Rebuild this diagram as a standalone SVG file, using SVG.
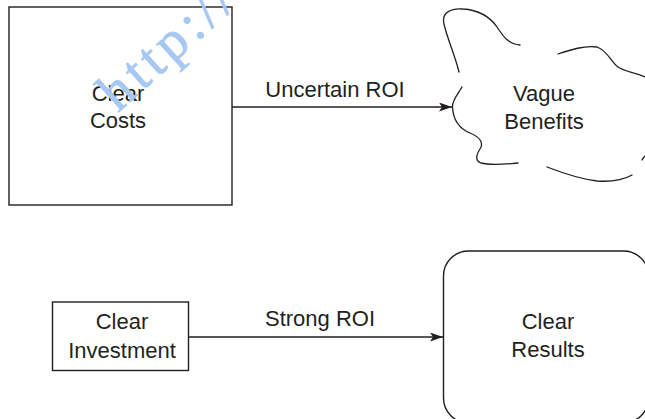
<svg xmlns="http://www.w3.org/2000/svg" width="645" height="419" viewBox="0 0 645 419">
<style>
.box{fill:none;stroke:#231f20;stroke-width:1.4}
.cl{fill:none;stroke:#231f20;stroke-width:1.3;stroke-linecap:round}
.edge{fill:none;stroke:#231f20;stroke-width:1.3}
.t{font-family:"Liberation Sans",Arial,sans-serif;font-size:22px;fill:#231f20;text-anchor:middle}
.wm{font-family:"Liberation Serif","Times New Roman",serif;font-size:55px;letter-spacing:5px;fill:#a6c8f2;stroke:#a6c8f2;stroke-width:0.8}
</style>
<defs>
<marker id="ah" markerUnits="userSpaceOnUse" markerWidth="14" markerHeight="10" refX="13" refY="4.5" orient="auto">
<path d="M0,0 L13,4.5 L0,9 L3,4.5 Z" fill="#231f20"/>
</marker>
</defs>
<rect width="645" height="419" fill="#fff"/>
<g id="connectors">
<line class="edge" x1="232" y1="107" x2="452" y2="107" marker-end="url(#ah)"/>
<text class="t" x="335" y="97">Uncertain ROI</text>
<line class="edge" x1="189" y1="337" x2="443" y2="337" marker-end="url(#ah)"/>
<text class="t" x="320" y="326">Strong ROI</text>
</g>
<g id="clear-costs">
<rect class="box" x="9" y="7" width="223" height="198"/>
<text class="t" x="118" y="101">Clear</text>
<text class="t" x="118" y="128">Costs</text>
</g>
<g id="vague-benefits">
<path class="cl" d="M459,72 C455,55 447,38 444,24 C441,12 452,8 463,9 C478,10 490,17 497,27 C503,36 508,44 520,45"/>
<path class="cl" d="M558,54 C570,50 585,45 597,47 C607,50 611,62 618,67 C625,72 635,72 645,77"/>
<path class="cl" d="M642,160 C643,158 644,157 645,156"/>
<path class="cl" d="M547,167 C560,172 580,179 597,181 C612,182 625,179 632,175"/>
<path class="cl" d="M462,87 C458,94 452,100 452.5,107 C453,118 458,128 470,133 C480,137 484,143 480,149 C476,155 475,161 481,163 C492,166 505,164 518,163"/>
<text class="t" x="544" y="101">Vague</text>
<text class="t" x="544" y="129">Benefits</text>
</g>
<g id="clear-investment">
<rect class="box" x="52.5" y="302" width="136" height="68.5"/>
<text class="t" x="122" y="329">Clear</text>
<text class="t" x="122" y="357.5">Investment</text>
</g>
<g id="clear-results">
<rect class="box" x="443.5" y="251" width="205" height="172" rx="25" ry="25"/>
<text class="t" x="548" y="329">Clear</text>
<text class="t" x="548" y="357">Results</text>
</g>
<text class="wm" x="118" y="113" transform="rotate(-42 118 113)">http://</text>
</svg>
